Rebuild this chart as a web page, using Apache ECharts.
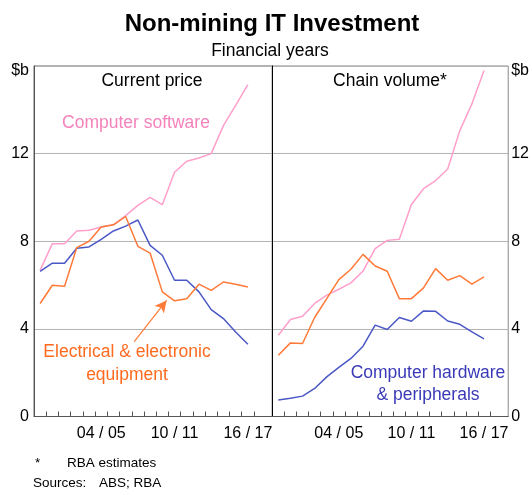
<!DOCTYPE html>
<html>
<head>
<meta charset="utf-8">
<script src="https://cdn.jsdelivr.net/npm/echarts@6/dist/echarts.min.js"></script>
<style>
  html, body { margin: 0; padding: 0; background: #fff; }
  #chart { width: 532px; height: 490px; }
</style>
</head>
<body>
<div id="chart"></div>
<script>
// financial years, one point per year
const years = ['1999/00', '2000/01', '2001/02', '2002/03', '2003/04', '2004/05', '2005/06', '2006/07', '2007/08',
  '2008/09', '2009/10', '2010/11', '2011/12', '2012/13', '2013/14', '2014/15', '2015/16', '2016/17'];
const labelYears = ['2004/05', '2010/11', '2016/17'];
const yTicks = [0, 4, 8, 12, 16];

// current price, $b
const softwareCur = [6.67, 7.89, 7.89, 8.47, 8.5, 8.65, 8.75, 9.17, 9.64, 10.0, 9.67, 11.15, 11.65, 11.8, 12.0, 13.28, 14.2, 15.15];
const hardwareCur = [6.63, 7.0, 7.0, 7.68, 7.74, 8.09, 8.47, 8.69, 8.97, 7.81, 7.36, 6.22, 6.22, 5.69, 4.88, 4.47, 3.86, 3.3];
const electricalCur = [5.16, 5.99, 5.95, 7.71, 8.0, 8.65, 8.75, 9.13, 7.77, 7.46, 5.69, 5.28, 5.38, 6.04, 5.76, 6.14, 6.04, 5.91];

// chain volume, $b
const softwareVol = [3.71, 4.43, 4.58, 5.16, 5.54, 5.81, 6.1, 6.64, 7.66, 8.04, 8.09, 9.68, 10.4, 10.77, 11.3, 13.05, 14.27, 15.79];
const hardwareVol = [0.75, 0.83, 0.93, 1.28, 1.81, 2.24, 2.65, 3.21, 4.17, 3.97, 4.52, 4.35, 4.82, 4.8, 4.36, 4.21, 3.86, 3.54];
const electricalVol = [2.8, 3.36, 3.33, 4.52, 5.38, 6.25, 6.72, 7.4, 6.87, 6.63, 5.38, 5.38, 5.87, 6.75, 6.22, 6.43, 6.04, 6.37];

const FONT = '"Liberation Sans", Arial, sans-serif';
const PINK = '#ff9fcb', ORANGE = '#ff7a38', BLUE = '#4a58c6';

const chart = echarts.init(document.getElementById('chart'));

// year i sits in the middle of its slot, slot edges are the ticks
const toPts = arr => arr.map((v, i) => [i + 0.5, v]);
const tickPos = years.map((y, i) => i + 1);
const labelPos = labelYears.map(y => years.indexOf(y) + 0.5);
const fmtYear = v => {
  const y = years[Math.round(v - 0.5)];
  return y.slice(2, 4) + ' / ' + y.slice(5);
};

function xAxis(g) {
  return {
    gridIndex: g, type: 'value', min: 0, max: 19.5,
    axisLine: { show: true, lineStyle: { color: '#555', width: 1 } },
    axisTick: { show: true, inside: true, length: 5, customValues: tickPos, lineStyle: { color: '#555' } },
    axisLabel: { customValues: labelPos, formatter: fmtYear, fontSize: 16, color: '#000', margin: 9, fontFamily: FONT },
    splitLine: { show: false }
  };
}

function yAxis(g, pos, labels, lineColor) {
  return {
    gridIndex: g, type: 'value', position: pos, min: 0, max: 16, interval: 4,
    axisLine: { show: true, lineStyle: { color: lineColor, width: 1 } },
    axisTick: { show: false },
    axisLabel: {
      show: labels, fontSize: 16, color: '#000', fontFamily: FONT, margin: pos == 'left' ? 5 : 3,
      formatter: v => v == 16 ? '{b|$b}' : String(v),
      rich: { b: { fontSize: 16, fontFamily: FONT, padding: [10, 0, 0, 0] } }
    },
    splitLine: { show: labels, lineStyle: { color: '#b4b4b4', width: 1 } }
  };
}

function line(name, g, data, color) {
  return {
    name, type: 'line', xAxisIndex: g, yAxisIndex: g, data: toPts(data),
    showSymbol: false, symbol: 'none', lineStyle: { color, width: 1.5 }, itemStyle: { color }
  };
}

function txt(text, x, y, color, size, extra) {
  return {
    type: 'text', x, y, silent: true,
    style: Object.assign({ text, fill: color, fontSize: size, fontFamily: FONT, align: 'center', verticalAlign: 'middle' }, extra || {})
  };
}

const electricalSeries = line('Electrical & electronic equipment', 0, electricalCur, ORANGE);
electricalSeries.markLine = {
  silent: true, symbol: ['none', 'arrow'], symbolSize: [9, 12],
  label: { show: false },
  lineStyle: { color: ORANGE, width: 1.2, type: 'solid' },
  data: [[{ coord: [8.2, 3.42] }, { coord: [10.85, 5.3] }]]
};

const option = {
  animation: false,
  backgroundColor: '#fff',
  grid: [
    { left: 34, top: 66, width: 238.3, height: 350.5, show: true, borderColor: '#666', borderWidth: 1 },
    { left: 272.3, top: 66, width: 238.4, height: 350.5, show: true, borderColor: '#888', borderWidth: 1 }
  ],
  xAxis: [xAxis(0), xAxis(1)],
  yAxis: [
    yAxis(0, 'left', true, '#555'),
    yAxis(1, 'right', true, '#888'),
    yAxis(0, 'right', false, '#000')
  ],
  series: [
    line('Computer software', 0, softwareCur, PINK),
    line('Computer hardware & peripherals', 0, hardwareCur, BLUE),
    electricalSeries,
    line('Computer software', 1, softwareVol, PINK),
    line('Computer hardware & peripherals', 1, hardwareVol, BLUE),
    line('Electrical & electronic equipment', 1, electricalVol, ORANGE)
  ],
  graphic: [
    txt('Non-mining IT Investment', 272, 24, '#000', 24, { fontWeight: 'bold' }),
    txt('Financial years', 270, 51, '#000', 17.5),
    txt('Current price', 152, 81, '#000', 17.5),
    txt('Chain volume*', 390, 81, '#000', 17.5),
    txt('Computer software', 136, 123, '#f582bb', 17.5),
    txt('Electrical & electronic\nequipment', 127, 364, '#ff6a1e', 17.5, { lineHeight: 23 }),
    txt('Computer hardware\n& peripherals', 428, 384, '#3a3ab8', 17.5, { lineHeight: 22 }),
    txt('*', 35, 463, '#000', 13.5, { align: 'left' }),
    txt('RBA estimates', 67, 463, '#000', 13.5, { align: 'left' }),
    txt('Sources:', 33, 483, '#000', 13.5, { align: 'left' }),
    txt('ABS; RBA', 99, 483, '#000', 13.5, { align: 'left' })
  ]
};

chart.setOption(option);
</script>
</body>
</html>
